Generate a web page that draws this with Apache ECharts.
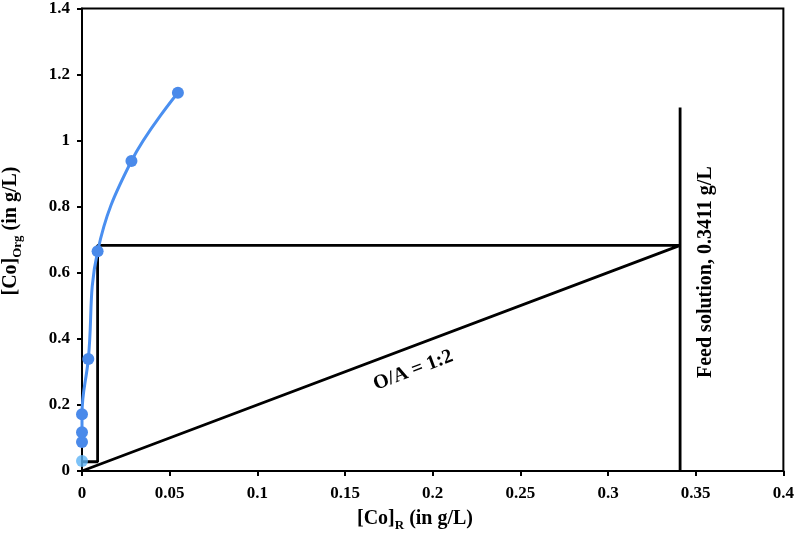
<!DOCTYPE html>
<html><head><meta charset="utf-8">
<script src="https://cdn.jsdelivr.net/npm/echarts@6/dist/echarts.min.js"></script>
<style>html,body{margin:0;padding:0;background:#fff}#c{width:797px;height:547px}</style>
</head><body><div id="c"></div>
<script>
// Equilibrium isotherm (organic vs raffinate)
const curveX = [0, 0, 0, 0.0036, 0.0089, 0.0282, 0.0547];
const curveY = [0.088, 0.117, 0.172, 0.339, 0.665, 0.9385, 1.145];
// lowest point (lighter marker)
const lowX = [0];
const lowY = [0.030];
// McCabe-Thiele stage + operating line (closed path)
const stairX = [0, 0.0089, 0.0089, 0.3411, 0];
const stairY = [0.028, 0.028, 0.683, 0.683, 0];
// Feed line
const feedX = [0.3411, 0.3411];
const feedY = [0, 1.1];
// Tick labels
const xTicks = ['0','0.05','0.1','0.15','0.2','0.25','0.3','0.35','0.4'];
const yTicks = ['0','0.2','0.4','0.6','0.8','1','1.2','1.4'];
// annotation texts
const opText = 'O/A = 1:2';
const feedText = 'Feed solution, 0.3411 g/L';

const FONT = "'Liberation Serif', 'Times New Roman', serif";
const zip = (a, b) => a.map((v, i) => [v, b[i]]);
const pick = (arr, v, step) => arr[Math.round(v / step)] ?? String(v);

const chart = echarts.init(document.getElementById('c'));
chart.setOption({
  animation: false,
  backgroundColor: '#fff',
  grid: { left: 82, right: 11, top: 6, bottom: 76, show: true, borderColor: '#000', borderWidth: 2 },
  xAxis: {
    type: 'value', min: 0, max: 0.4, interval: 0.05,
    axisLine: { lineStyle: { color: '#000', width: 2 } },
    axisTick: { show: true, length: 5, lineStyle: { color: '#000', width: 2 } },
    splitLine: { show: false },
    axisLabel: { color: '#000', fontFamily: FONT, fontWeight: 'bold', fontSize: 17, margin: 14,
      formatter: v => pick(xTicks, v, 0.05) }
  },
  yAxis: {
    type: 'value', min: 0, max: 1.4, interval: 0.2,
    axisLine: { lineStyle: { color: '#000', width: 2 } },
    axisTick: { show: true, length: 5, lineStyle: { color: '#000', width: 2 } },
    splitLine: { show: false },
    axisLabel: { color: '#000', fontFamily: FONT, fontWeight: 'bold', fontSize: 17, margin: 12,
      formatter: v => pick(yTicks, v, 0.2) }
  },
  series: [
    { type: 'line', data: zip(stairX, stairY), symbol: 'none', z: 2,
      lineStyle: { color: '#000', width: 2.8 } },
    { type: 'line', data: zip(feedX, feedY), symbol: 'none', z: 2,
      lineStyle: { color: '#000', width: 2.8 } },
    { type: 'line', data: zip(curveX, curveY), smooth: 0.4, symbol: 'circle', symbolSize: 12, z: 5,
      lineStyle: { color: '#4a8ff0', width: 3 }, itemStyle: { color: '#4a8aea' } },
    { type: 'scatter', data: zip(lowX, lowY), symbol: 'circle', symbolSize: 12, z: 6,
      itemStyle: { color: '#5db3f5' } }
  ]
});

// Annotation anchors (data coords) converted through the chart's scales
const toPx = p => chart.convertToPixel({ gridIndex: 0 }, p);
const p0 = toPx([stairX[4], stairY[4]]);
const p1 = toPx([stairX[3], stairY[3]]);
const ang = Math.atan2(p0[1] - p1[1], p1[0] - p0[0]);
const opC = toPx([0.1889, 0.3044]);
const feedC = toPx([0.3557, 0.602]);
const main = { fontFamily: FONT, fontWeight: 'bold', fontSize: 20, lineHeight: 26, fill: '#000' };
const sub = { fontFamily: FONT, fontWeight: 'bold', fontSize: 13, lineHeight: 26, verticalAlign: 'bottom', padding: [9, 0, 0, 0], fill: '#000' };
const annFont = "bold 20px 'Liberation Serif', serif";
chart.setOption({
  graphic: [
    { type: 'text', x: opC[0], y: opC[1], rotation: ang,
      style: { text: opText, font: annFont, fill: '#000', align: 'center', verticalAlign: 'middle' } },
    { type: 'text', x: feedC[0], y: feedC[1], rotation: Math.PI / 2,
      style: { text: feedText, font: annFont, fill: '#000', align: 'center', verticalAlign: 'middle' } },
    { type: 'text', x: 11, y: 231, rotation: Math.PI / 2,
      style: { text: '{a|[Co]}{s|Org}{a| (in g/L)}', rich: { a: main, s: sub }, align: 'center', verticalAlign: 'middle' } },
    { type: 'text', x: 415, y: 519,
      style: { text: '{a|[Co]}{s|R}{a| (in g/L)}', rich: { a: main, s: sub }, align: 'center', verticalAlign: 'middle' } }
  ]
});
</script></body></html>
